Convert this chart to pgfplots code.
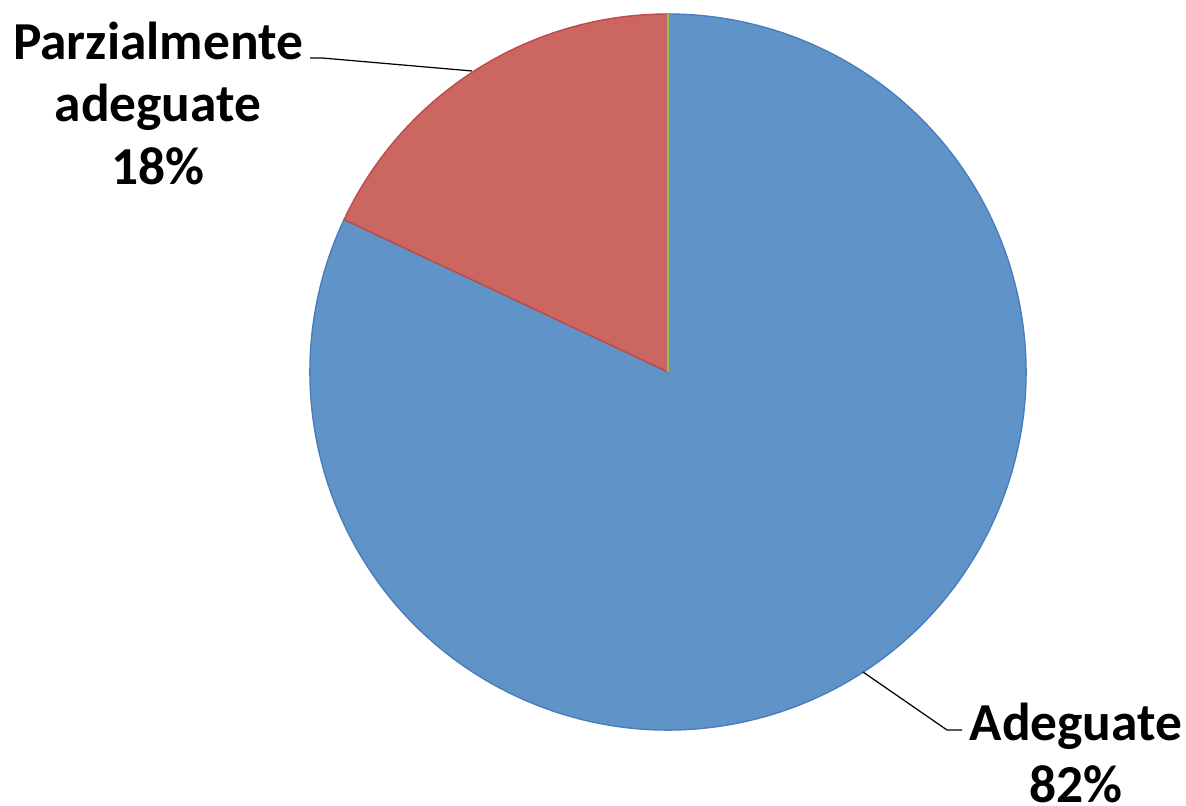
\documentclass[border=0pt]{standalone}
\usepackage{pgfplots}
\usepackage{pgfplotstable}
\pgfplotsset{compat=1.18}
\usepackage{fontspec}
\setmainfont{Carlito}

\definecolor{sliceblue}{HTML}{6094C9}
\definecolor{sliceblueline}{HTML}{4A7EBB}
\definecolor{slicered}{HTML}{CB6660}
\definecolor{sliceredline}{HTML}{BE4B48}
\definecolor{slicegreen}{HTML}{9BBB59}

% shares (percent)
\pgfplotstableread{
label value
Adeguate 82
Parzialmente 18
Altro 0
}\piedata
\pgfplotstablegetelem{0}{value}\of\piedata \let\va\pgfplotsretval
\pgfplotstablegetelem{1}{value}\of\piedata \let\vb\pgfplotsretval

\begin{document}
\begin{tikzpicture}
\useasboundingbox (0,0) rectangle (11.86cm,8.06cm);
\pgfmathsetmacro{\angR}{90+3.6*\vb}
\pgfmathsetmacro{\angB}{\angR+3.6*\va}
\begin{axis}[
  at={(0,0)}, anchor=south west,
  scale only axis, width=11.86cm, height=8.06cm,
  xmin=0, xmax=1186, ymin=0, ymax=806,
  y dir=reverse,
  hide axis, clip=false,
  ]
  % blue slice
  \filldraw[fill=sliceblue, draw=sliceblueline, line width=0.4pt]
    (axis cs:668,372) -- ++(\angR:3.58cm)
    arc[start angle=\angR, end angle=\angB, radius=3.58cm] -- cycle;
  % red slice
  \filldraw[fill=slicered, draw=sliceredline, line width=0.4pt]
    (axis cs:668,372) -- ++(90:3.58cm)
    arc[start angle=90, end angle=\angR, radius=3.58cm] -- cycle;
  % zero slice
  \draw[slicegreen, line width=0.6pt] (axis cs:668,372) -- ++(90:3.58cm);

  % leader lines
  \draw[black, line width=0.35pt] (axis cs:310,58) -- (axis cs:322,58) -- (axis cs:472,71);
  \draw[black, line width=0.35pt] (axis cs:863,672) -- (axis cs:947,730) -- (axis cs:962,730);

  % labels
  \begin{scope}[every node/.style={font=\fontsize{15.2}{18}\selectfont\bfseries, inner sep=0pt, anchor=base}]
    \node at (axis cs:158,60) {Parzialmente};
    \node at (axis cs:158,122) {adeguate};
    \node at (axis cs:158,185) {18\%};
    \node at (axis cs:1076,740) {Adeguate};
    \node at (axis cs:1076,802) {82\%};
  \end{scope}
\end{axis}
\end{tikzpicture}
\end{document}
